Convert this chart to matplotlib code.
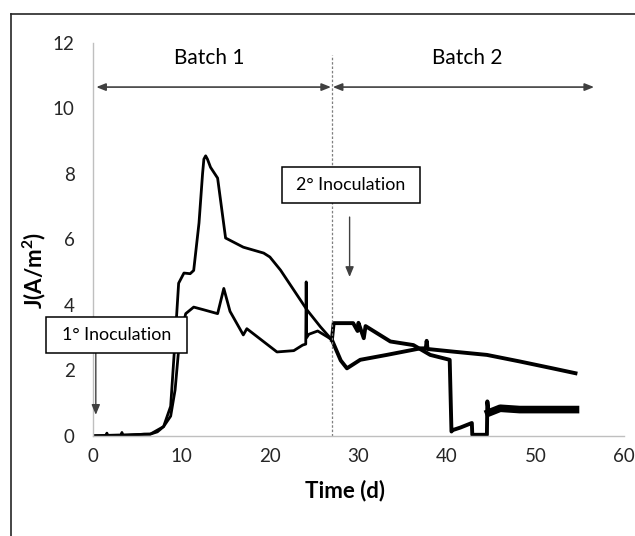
"""Current density over two batches with inoculation markers."""

import matplotlib

matplotlib.use("Agg")
import matplotlib.pyplot as plt
import numpy as np
from matplotlib.lines import Line2D
from matplotlib.patches import Rectangle

plt.rcParams["font.family"] = ["Lato", "DejaVu Sans"]
plt.rcParams["mathtext.fontset"] = "custom"
plt.rcParams["mathtext.bf"] = "Lato:bold"

# --- data (time in days, J in A/m2) ---
# batch 1, upper curve
t1_a = [0, 1.5, 1.6, 1.7, 3.2, 3.3, 3.4, 5.8, 6.5, 7.3, 8.0, 8.8, 9.3, 9.7, 10.3,
        11.0, 11.4, 12.0, 12.4, 12.55, 12.75, 12.95, 13.3, 14.1, 15.0, 17.0,
        19.3, 20.0, 21.2, 22.7, 24.2, 25.7, 27.0]
j1_a = [0, 0, 0.08, 0, 0, 0.1, 0, 0.05, 0.05, 0.12, 0.28, 0.9, 2.93, 4.66, 4.97,
        4.95, 5.05, 6.5, 8.0, 8.45, 8.55, 8.45, 8.2, 7.87, 6.04, 5.76,
        5.58, 5.46, 5.06, 4.45, 3.84, 3.33, 2.93]
# batch 1, lower curve
t1_b = [0, 6.5, 8.0, 8.8, 9.3, 9.8, 10.5, 11.4, 12.5, 14.1, 14.8, 15.5, 17.0,
        17.4, 20.8, 22.7, 23.7, 24.05, 24.1, 24.15, 24.4, 25.4, 26.5, 27.0]
j1_b = [0, 0.05, 0.28, 0.6, 1.4, 2.93, 3.73, 3.93, 3.85, 3.73, 4.5, 3.8, 3.08,
        3.27, 2.56, 2.6, 2.77, 2.8, 4.7, 3.0, 3.1, 3.2, 3.02, 2.93]
# batch 2, curve continuing from the upper one
t2_a = [27.0, 28.0, 28.7, 30.2, 33.2, 37.0, 37.6, 37.7, 37.8, 40.7, 44.5, 48.2,
        51.9, 54.5]
j2_a = [2.93, 2.3, 2.06, 2.32, 2.47, 2.67, 2.67, 2.9, 2.65, 2.57, 2.47, 2.27,
        2.06, 1.91]
# batch 2, curve continuing from the lower one
t2_b = [27.0, 27.2, 29.4, 29.9, 30.0, 30.6, 30.8, 33.6, 36.2, 38.1, 40.3, 40.5,
        40.6, 41.5, 42.8, 42.85, 44.5, 44.55, 44.7, 46.0, 48.2, 54.5]
j2_b = [2.93, 3.44, 3.44, 3.2, 3.45, 2.98, 3.35, 2.88, 2.77, 2.47, 2.32, 0.13,
        0.17, 0.25, 0.39, 0.03, 0.03, 1.05, 0.7, 0.84, 0.8, 0.8]

batch_split = 27.0
x_ticks = [0, 10, 20, 30, 40, 50, 60]
y_ticks = [0, 2, 4, 6, 8, 10, 12]

fig = plt.figure(figsize=(6.35, 5.36), dpi=100)
ax = fig.add_axes([0.146, 0.187, 0.837, 0.733])

ax.plot(t1_a, j1_a, color="black", lw=2.0, solid_joinstyle="round")
ax.plot(t1_b, j1_b, color="black", lw=2.0, solid_joinstyle="round")
ax.plot(t2_a, j2_a, color="black", lw=2.8, solid_joinstyle="round")
t2_b = np.array(t2_b)
j2_b = np.array(j2_b)
ax.plot(t2_b, j2_b, color="black", lw=2.8, solid_joinstyle="round")
tail = t2_b >= 44.7
ax.plot(t2_b[tail], j2_b[tail], color="black", lw=5.5)

ax.axvline(batch_split, color="#7f7f7f", lw=0.9, ls=(0, (2, 1.5)), ymax=0.97)

ax.set_xlim(0, 60)
ax.set_ylim(0, 12)
ax.set_xticks(x_ticks)
ax.set_yticks(y_ticks)
ax.tick_params(length=0, labelsize=13.5, colors="#262626")
ax.tick_params(axis="y", pad=13)
ax.tick_params(axis="x", pad=9)
for side in ("top", "right"):
    ax.spines[side].set_visible(False)
for side in ("left", "bottom"):
    ax.spines[side].set_color("#bfbfbf")
    ax.spines[side].set_linewidth(1.0)

ax.set_xlabel("Time (d)", fontsize=16, fontweight="bold")
ax.xaxis.set_label_coords(0.475, -0.112)
ax.set_ylabel("J(A/m$^{\\mathbf{2}}$)", fontsize=16, fontweight="bold")
ax.yaxis.set_label_coords(-0.085, 0.42)

# batch arrows
arrow_kw = dict(arrowstyle="<|-|>,head_length=0.55,head_width=0.22",
                color="#404040", lw=1.2, shrinkA=0, shrinkB=0)
ax.annotate("", xy=(0.4, 10.65), xytext=(26.9, 10.65), arrowprops=arrow_kw,
            annotation_clip=False)
ax.annotate("", xy=(27.1, 10.65), xytext=(56.6, 10.65), arrowprops=arrow_kw,
            annotation_clip=False)
ax.text(13.2, 11.55, "Batch 1", ha="center", va="center", fontsize=15)
ax.text(42.3, 11.55, "Batch 2", ha="center", va="center", fontsize=15)

# inoculation boxes
for (x0, x1, y0, y1, label) in [(-5.3, 10.6, 2.53, 3.63, "1° Inoculation"),
                                (21.4, 36.9, 7.1, 8.2, "2° Inoculation")]:
    ax.add_patch(Rectangle((x0, y0), x1 - x0, y1 - y0, facecolor="white",
                           edgecolor="black", lw=1.1, clip_on=False, zorder=5))
    ax.text((x0 + x1) / 2, (y0 + y1) / 2, label, ha="center", va="center",
            fontsize=12.8, zorder=6, clip_on=False)

down_kw = dict(arrowstyle="-|>,head_length=0.6,head_width=0.25", color="#404040",
               lw=1.0, shrinkA=0, shrinkB=0)
ax.annotate("", xy=(0.35, 0.64), xytext=(0.35, 2.53), arrowprops=down_kw,
            annotation_clip=False)
ax.annotate("", xy=(29.0, 4.85), xytext=(29.0, 6.68), arrowprops=down_kw,
            annotation_clip=False)

# frame lines of the original chart area (left and top only)
fig.add_artist(Line2D([0.018, 0.018], [0.0, 0.974], color="#262626", lw=1.2))
fig.add_artist(Line2D([0.017, 1.0], [0.974, 0.974], color="#262626", lw=1.2))

fig.savefig("out.png", dpi=100)
